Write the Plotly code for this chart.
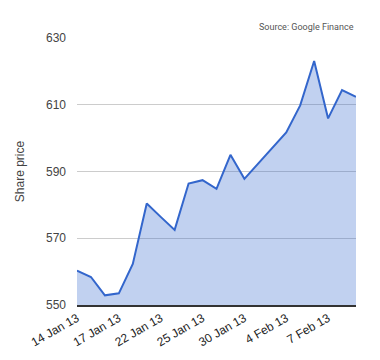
import plotly.graph_objects as go

dates = ["14 Jan 13", "15 Jan 13", "16 Jan 13", "17 Jan 13", "18 Jan 13", "21 Jan 13",
         "22 Jan 13", "23 Jan 13", "24 Jan 13", "25 Jan 13", "28 Jan 13", "29 Jan 13",
         "30 Jan 13", "31 Jan 13", "1 Feb 13", "4 Feb 13", "5 Feb 13", "6 Feb 13",
         "7 Feb 13", "8 Feb 13", "11 Feb 13"]
prices = [560.3, 558.4, 552.9, 553.5, 562.3, 580.4, 576.4, 572.5, 586.4, 587.4, 584.8,
          595.0, 587.8, 592.4, 597.1, 601.7, 609.8, 623.1, 605.9, 614.4, 612.4]
tick_labels = ["14 Jan 13", "17 Jan 13", "22 Jan 13", "25 Jan 13", "30 Jan 13", "4 Feb 13", "7 Feb 13"]
y_ticks = [550, 570, 590, 610, 630]

xs = list(range(len(dates)))
tick_pos = [dates.index(t) for t in tick_labels]

fig = go.Figure()
fig.add_trace(go.Scatter(
    x=xs, y=prices, mode="lines",
    line=dict(color="#3366cc", width=2),
    fill="tozeroy", fillcolor="rgba(51,102,204,0.3)",
    hoverinfo="skip",
))

fig.update_layout(
    width=380, height=360,
    margin=dict(l=77, r=24, t=38, b=55),
    paper_bgcolor="white", plot_bgcolor="white",
    showlegend=False,
    font=dict(family="Liberation Sans, Arial, sans-serif", size=12, color="#444"),
    xaxis=dict(
        range=[0, len(dates) - 1], tickmode="array", tickvals=tick_pos, ticktext=tick_labels,
        tickangle=-30, showgrid=False, zeroline=False,
        showline=True, linecolor="#333", linewidth=1.5,
        tickfont=dict(size=12, color="#222"), ticks="",
    ),
    yaxis=dict(
        range=[550, 630], tickmode="array", tickvals=y_ticks,
        showgrid=True, gridcolor="#cccccc", gridwidth=1, zeroline=False,
        showline=False, ticks="", ticklabelstandoff=10,
        tickfont=dict(size=12, color="#444"),
        title=dict(text="Share price", font=dict(size=12, color="#444"), standoff=18),
    ),
    annotations=[dict(
        text="Source: Google Finance", xref="paper", yref="paper", x=1, y=1,
        xanchor="right", yanchor="bottom", yshift=4, showarrow=False,
        font=dict(family="Roboto, sans-serif", size=9, color="#555"),
    )],
)
fig.write_html("out.html")
